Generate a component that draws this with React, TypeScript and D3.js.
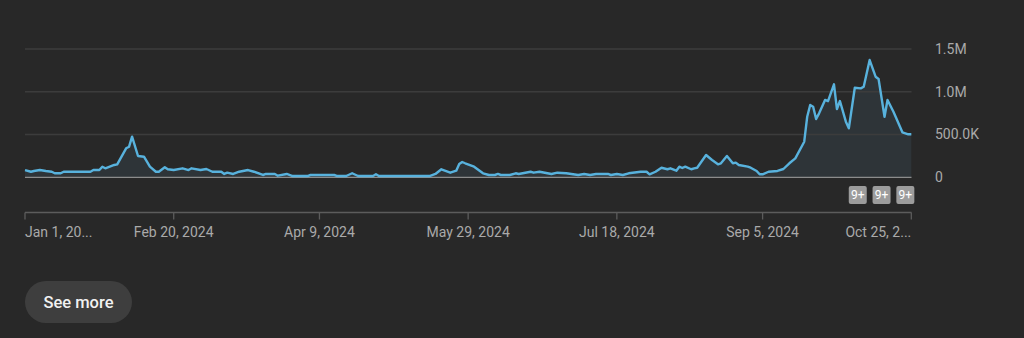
import React from "react";
import * as d3 from "d3";

// Day offsets from Jan 1, 2024 and daily views at those days
const days = [0, 2, 3, 5, 7, 9, 10, 12, 13, 22, 23, 25, 26, 27, 30, 31, 34, 35, 36, 38, 40, 41, 42, 44, 45, 47, 48, 50, 53, 55, 56, 59, 61, 63, 66, 67, 68, 70, 72, 75, 77, 80, 81, 84, 85, 88, 90, 95, 96, 104, 105, 108, 110, 112, 117, 118, 119, 136, 138, 140, 143, 145, 146, 147, 148, 151, 154, 156, 158, 159, 160, 163, 165, 166, 170, 171, 173, 177, 179, 182, 186, 188, 190, 192, 196, 197, 199, 201, 203, 207, 209, 210, 212, 214, 216, 217, 219, 220, 221, 222, 224, 225, 226, 229, 231, 233, 234, 236, 238, 239, 240, 243, 244, 246, 247, 248, 250, 253, 255, 257, 259, 262, 263, 264, 265, 266, 267, 269, 270, 272, 273, 274, 276, 277, 279, 281, 282, 284, 286, 287, 289, 290, 292, 295, 297, 298];
const views = [85000, 65000, 74000, 85000, 74000, 65000, 47000, 47000, 65000, 65000, 85000, 85000, 124000, 105000, 144000, 152000, 339000, 358000, 475000, 249000, 241000, 182000, 124000, 65000, 65000, 117000, 94000, 85000, 105000, 85000, 105000, 85000, 97000, 65000, 65000, 39000, 54000, 39000, 65000, 85000, 65000, 27000, 39000, 39000, 19000, 39000, 15000, 15000, 27000, 27000, 15000, 15000, 47000, 15000, 15000, 35000, 15000, 15000, 39000, 94000, 54000, 77000, 155000, 179000, 164000, 124000, 47000, 27000, 27000, 39000, 27000, 27000, 47000, 39000, 65000, 54000, 65000, 39000, 54000, 47000, 27000, 39000, 27000, 39000, 39000, 27000, 39000, 27000, 47000, 65000, 65000, 35000, 65000, 112000, 94000, 105000, 77000, 124000, 109000, 124000, 94000, 105000, 112000, 261000, 202000, 152000, 164000, 249000, 164000, 171000, 144000, 124000, 112000, 74000, 35000, 35000, 65000, 74000, 97000, 164000, 222000, 416000, 708000, 845000, 825000, 682000, 748000, 904000, 890000, 1087000, 798000, 892000, 650000, 573000, 1047000, 1040000, 1059000, 1371000, 1176000, 1149000, 708000, 904000, 767000, 526000, 503000, 503000];

const yTicks = [0, 500000, 1000000, 1500000];
const yTickLabels = ["0", "500.0K", "1.0M", "1.5M"];
const xTickDates = ["2024-01-01", "2024-02-20", "2024-04-09", "2024-05-29", "2024-07-18", "2024-09-05", "2024-10-25"];
const xTickLabels = ["Jan 1, 20...", "Feb 20, 2024", "Apr 9, 2024", "May 29, 2024", "Jul 18, 2024", "Sep 5, 2024", "Oct 25, 2..."];
const badgeDates = ["2024-10-07", "2024-10-15", "2024-10-23"];
const badgeLabels = ["9+", "9+", "9+"];

const startDate = new Date(2024, 0, 1);
const parse = (s: string) => {
  const [y, m, d] = s.split("-").map(Number);
  return new Date(y, m - 1, d);
};
const data = days.map((d, i) => ({ date: d3.timeDay.offset(startDate, d), v: views[i] }));

export default function App() {
  const W = 1024, H = 338;
  const x = d3.scaleTime().domain([startDate, parse("2024-10-25")]).range([25, 911.3]);
  const y = d3.scaleLinear().domain([0, 1500000]).range([177.3, 49]);
  const line = d3.line<{ date: Date; v: number }>().x(d => x(d.date)).y(d => y(d.v));
  const area = d3.area<{ date: Date; v: number }>().x(d => x(d.date)).y0(y(0)).y1(d => y(d.v));
  const font = "Roboto, 'Noto Sans', sans-serif";
  const axisY = 212.5;
  return (
    <div style={{ width: W, height: H, background: "#282828", position: "relative" }}>
      <style>{`body{margin:0;background:#282828}`}</style>
      <svg width={W} height={H} style={{ display: "block" }} fontFamily={font}>
        <rect x={0} y={0} width={W} height={H} fill="#282828" />
        <path d={area(data) || ""} fill="#2e3438" />
        {yTicks.map((t, i) => (
          <g key={t}>
            <line x1={25} x2={911.5} y1={y(t)} y2={y(t)} stroke={t === 0 ? "#8c8c8c" : "#3c3c3c"} strokeWidth={t === 0 ? 1.3 : 1.5} />
            <text x={935} y={y(t)} dy="0.35em" fontSize={14} fill="#aaaaaa">{yTickLabels[i]}</text>
          </g>
        ))}
        <path d={line(data) || ""} fill="none" stroke="#58b2dd" strokeWidth={2.4} strokeLinejoin="round" />
        {badgeDates.map((b, i) => (
          <g key={b} transform={`translate(${x(parse(b))},195)`}>
            <rect x={-9} y={-9} width={18} height={18} rx={2} fill="#9c9c9c" />
            <text x={0} y={0} dy="0.36em" textAnchor="middle" fontSize={12} fill="#ffffff">{badgeLabels[i]}</text>
          </g>
        ))}
        <line x1={25} x2={911.5} y1={axisY} y2={axisY} stroke="#5c5c5c" strokeWidth={1.3} />
        {xTickDates.map((t, i) => {
          const px = x(parse(t));
          const anchor = i === 0 ? "start" : i === xTickDates.length - 1 ? "end" : "middle";
          return (
            <g key={t}>
              <line x1={px} x2={px} y1={axisY} y2={axisY + 7} stroke="#5c5c5c" strokeWidth={1.3} />
              <text x={px} y={232} dy="0.35em" textAnchor={anchor} fontSize={14} fill="#aaaaaa">{xTickLabels[i]}</text>
            </g>
          );
        })}
        <rect x={25} y={281} width={107} height={42} rx={21} fill="#3e3e3e" />
        <text x={78.5} y={302} dy="0.35em" textAnchor="middle" fontSize={16.5} fontWeight={500} fill="#f1f1f1">See more</text>
      </svg>
    </div>
  );
}
